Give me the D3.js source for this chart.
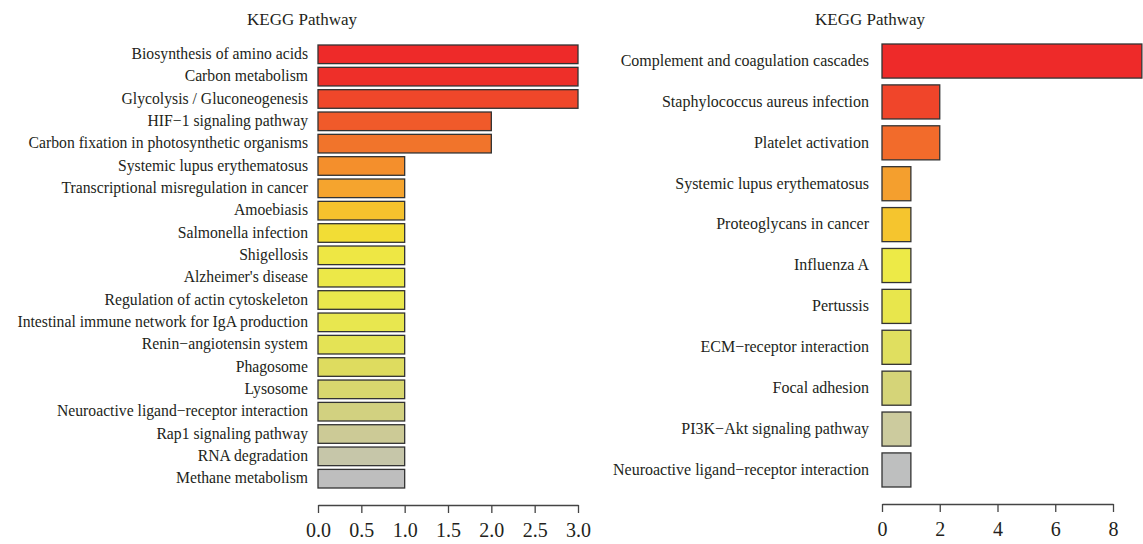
<!DOCTYPE html>
<html>
<head>
<meta charset="utf-8">
<script src="https://cdn.jsdelivr.net/npm/d3@7"></script>
<style>
    body { margin: 0; background: #fff; }
    svg { display: block; }
</style>
</head>
<body>
<svg class="chart" width="1143" height="544"></svg>
<script>
'use strict'

// left panel
const leftPathways = [
    'Biosynthesis of amino acids',
    'Carbon metabolism',
    'Glycolysis / Gluconeogenesis',
    'HIF\u22121 signaling pathway',
    'Carbon fixation in photosynthetic organisms',
    'Systemic lupus erythematosus',
    'Transcriptional misregulation in cancer',
    'Amoebiasis',
    'Salmonella infection',
    'Shigellosis',
    "Alzheimer's disease",
    'Regulation of actin cytoskeleton',
    'Intestinal immune network for IgA production',
    'Renin\u2212angiotensin system',
    'Phagosome',
    'Lysosome',
    'Neuroactive ligand\u2212receptor interaction',
    'Rap1 signaling pathway',
    'RNA degradation',
    'Methane metabolism'
]
const leftCounts = [3, 3, 3, 2, 2, 1, 1, 1, 1, 1, 1, 1, 1, 1, 1, 1, 1, 1, 1, 1]
const leftTicks = [0, 0.5, 1, 1.5, 2, 2.5, 3]
const leftColors = [
    '#ee2a29', '#ee2f29', '#ef472a', '#f05a2a', '#f1742b',
    '#f48f2c', '#f5a42e', '#f5c22d', '#f2dd35', '#eee744',
    '#ece848', '#eae84c', '#e8e74f', '#e4e355', '#dedc5f',
    '#d8d76e', '#d2d180', '#ccca96', '#c6c6a9', '#bebebe'
]

// right panel
const rightPathways = [
    'Complement and coagulation cascades',
    'Staphylococcus aureus infection',
    'Platelet activation',
    'Systemic lupus erythematosus',
    'Proteoglycans in cancer',
    'Influenza A',
    'Pertussis',
    'ECM\u2212receptor interaction',
    'Focal adhesion',
    'PI3K\u2212Akt signaling pathway',
    'Neuroactive ligand\u2212receptor interaction'
]
const rightCounts = [9, 2, 2, 1, 1, 1, 1, 1, 1, 1, 1]
const rightTicks = [0, 2, 4, 6, 8]
const rightColors = [
    '#ee2a29', '#f0452a', '#f26b2b', '#f49f2e', '#f5c52e',
    '#edea47', '#e8e64c', '#e0df5f', '#d5d478', '#cccb9e', '#bebfbf'
]

const svg = d3.select('.chart')
const fontFamily = '"Liberation Serif", "DejaVu Serif", serif'

function drawPanel(opt) {
    let scaleX = d3.scaleLinear()
    .domain([0, opt.max])
    .range([opt.x0, opt.x1])

    let scaleY = d3.scaleBand()
    .domain(opt.names)
    .range([opt.top, opt.bottom])
    .paddingInner(1 - 1 / 1.2)
    .paddingOuter(0)

    let g = svg.append('g')

    // title
    g.append('text')
    .attr('x', opt.titleX)
    .attr('y', 25)
    .attr('text-anchor', 'middle')
    .style('font-family', fontFamily)
    .style('font-size', '17px')
    .style('fill', '#231f20')
    .text('KEGG Pathway')

    // bars
    g.selectAll('rect')
    .data(opt.names)
    .enter().append('rect')
    .attr('x', scaleX(0))
    .attr('y', d => scaleY(d))
    .attr('width', (d, i) => scaleX(opt.values[i]) - scaleX(0))
    .attr('height', scaleY.bandwidth())
    .style('fill', (d, i) => opt.colors[i])
    .style('stroke', '#333')
    .style('stroke-width', 1.3)

    // category labels
    g.selectAll('.lab')
    .data(opt.names)
    .enter().append('text')
    .attr('class', 'lab')
    .attr('x', scaleX(0) - opt.labelGap)
    .attr('y', d => scaleY(d) + scaleY.bandwidth() / 2)
    .attr('dy', '0.3em')
    .attr('text-anchor', 'end')
    .style('font-family', fontFamily)
    .style('font-size', opt.labelSize)
    .style('fill', '#231f20')
    .text(d => d)

    // x axis
    let axisX = d3.axisBottom(scaleX)
    .tickValues(opt.ticks)
    .tickFormat(opt.format)
    .tickSize(8)
    .tickSizeOuter(0)
    .tickPadding(10)

    let ax = g.append('g')
    .attr('transform', `translate(0, ${opt.axisY})`)
    .call(axisX)
    ax.select('.domain').style('stroke', '#444').style('stroke-width', 1.3)
    ax.selectAll('.tick line').style('stroke', '#444').style('stroke-width', 1.3)
    ax.selectAll('.tick text')
    .style('font-family', fontFamily)
    .style('font-size', '20px')
    .style('fill', '#231f20')
}

drawPanel({
    names: leftPathways, values: leftCounts, colors: leftColors,
    ticks: leftTicks, format: d3.format('.1f'), max: 3,
    x0: 318, x1: 578, top: 45, bottom: 488, axisY: 505,
    titleX: 302, labelGap: 10, labelSize: '15.7px'
})

drawPanel({
    names: rightPathways, values: rightCounts, colors: rightColors,
    ticks: rightTicks, format: d3.format('d'), max: 8,
    x0: 882, x1: 1113, top: 44, bottom: 487, axisY: 504,
    titleX: 870, labelGap: 13, labelSize: '16px'
})
</script>
</body>
</html>
